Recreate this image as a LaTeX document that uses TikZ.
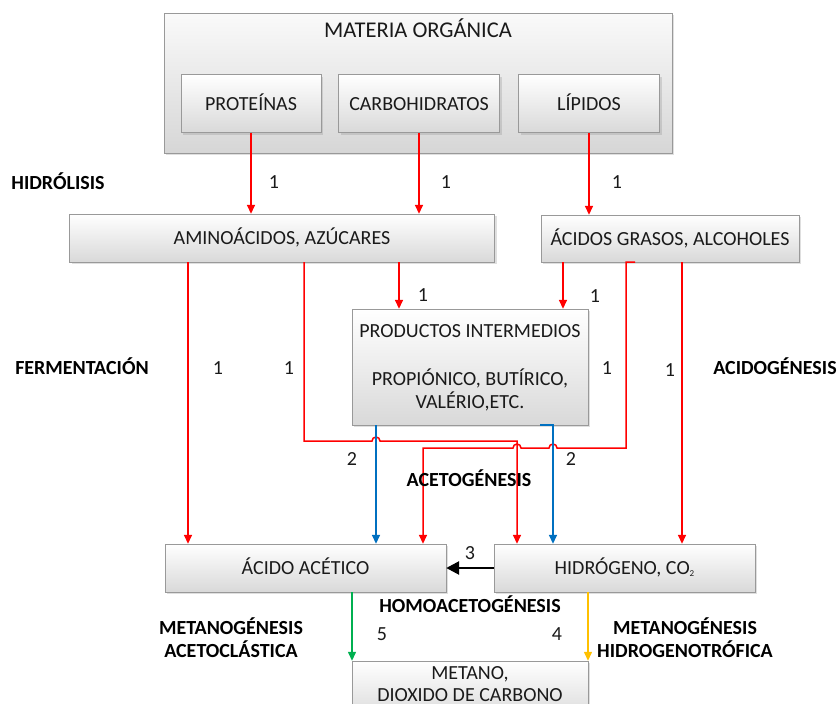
\documentclass[tikz,border=0pt]{standalone}
\usepackage{fontspec}
\setmainfont{Carlito}
\usetikzlibrary{arrows.meta,shadows}
\definecolor{cblue}{HTML}{0070C0}
\definecolor{cgreen}{HTML}{00B050}
\definecolor{cyellow}{HTML}{FFC000}
\definecolor{ctext}{HTML}{1A1A1A}
\begin{document}
\begin{tikzpicture}[x=1pt,y=-1pt,
  box/.style={draw=gray!80, top color=white, bottom color=gray!30,
    drop shadow={shadow xshift=2pt,shadow yshift=-2pt,opacity=0.25},
    inner sep=0pt, font=\fontsize{20}{23}\selectfont, text=ctext,
    text height=13pt, text depth=0pt},
  bigbox/.style={box, top color=gray!4, bottom color=gray!32},
  lbl/.style={font=\fontsize{20}{23}\selectfont, text=ctext, inner sep=0pt,
    text height=13pt, text depth=0pt},
  blbl/.style={lbl, font=\fontsize{20}{23}\selectfont\bfseries, text=black},
  ra/.style={draw=red, line width=1.5pt, -{Triangle[length=9pt,width=8pt]}},
  ba/.style={draw=cblue, line width=1.5pt, -{Triangle[length=9pt,width=8pt]}},
  ga/.style={draw=cgreen, line width=1.3pt, -{Triangle[length=9pt,width=8pt]}},
  ya/.style={draw=cyellow, line width=1.3pt, -{Triangle[length=9pt,width=8pt]}},
  ka/.style={draw=black, line width=2.6pt, -{Triangle[length=13pt,width=13pt]}}
]
\fill[white] (0,0) rectangle (839,704);
\clip (0,0) rectangle (839,704);

% boxes
\node[bigbox, minimum width=508pt, minimum height=140pt] (mat) at (418,83) {};
\node[lbl, font=\fontsize{22.5}{25}\selectfont, text height=14.5pt] (mattitle) at (418,30) {MATERIA ORGÁNICA};
\node[box, minimum width=140pt, minimum height=58pt] (prot) at (251,103.5) {PROTEÍNAS};
\node[box, minimum width=161pt, minimum height=58pt] (carb) at (419,103.5) {CARBOHIDRATOS};
\node[box, minimum width=141pt, minimum height=58pt] (lip) at (589,103.5) {LÍPIDOS};

\node[box, minimum width=425pt, minimum height=48pt] (amino) at (282,238) {AMINOÁCIDOS, AZÚCARES};
\node[box, minimum width=258pt, minimum height=47pt] (acidos) at (670,238.5) {ÁCIDOS GRASOS, ALCOHOLES};

\node[box, minimum width=236pt, minimum height=116pt] (prod) at (470,367) {};
\node[lbl] (prodA) at (470,331) {PRODUCTOS INTERMEDIOS};
\node[lbl] (prodB) at (470,379) {PROPIÓNICO, BUTÍRICO,};
\node[lbl] (prodC) at (470,402) {VALÉRIO,ETC.};

\node[box, minimum width=281pt, minimum height=48pt] (acet) at (305.5,568) {ÁCIDO ACÉTICO};
\node[box, minimum width=261pt, minimum height=48pt] (hidro) at (624.5,568) {HIDRÓGENO, CO{\fontsize{9}{9}\selectfont\raisebox{-1.5pt}{2}}};

\node[box, minimum width=236pt, minimum height=60pt] (metano) at (470,691) {};
\node[lbl] (metA) at (470,673) {METANO,};
\node[lbl] (metB) at (470,694.5) {DIOXIDO DE CARBONO};

% hydrolysis arrows
\draw[ra] (prot.south) -- (prot.south |- amino.north);
\draw[ra] (carb.south) -- (carb.south |- amino.north);
\draw[ra] (lip.south) -- (lip.south |- acidos.north);

% fermentation / acidogenesis
\draw[ra] (188,0 |- amino.south) -- (188,0 |- acet.north);
\draw[ra] (399,0 |- amino.south) -- (399,0 |- prod.north);
\draw[ra] (563,0 |- acidos.south) -- (563,0 |- prod.north);
\draw[ra] (682,0 |- acidos.south) -- (682,0 |- hidro.north);

\draw[ra] (304,0 |- amino.south) -- (304,441) -- (372,441)
   arc[start angle=180,end angle=0,radius=4pt] -- (517,441) -- (517,0 |- hidro.north);
\draw[ra] (635,0 |- acidos.south) -- (626,0 |- acidos.south) -- (626,448) -- (557,448)
   arc[start angle=0,end angle=180,radius=4pt] -- (521,448)
   arc[start angle=0,end angle=180,radius=4pt] -- (423,448) -- (423,0 |- acet.north);

% acetogenesis
\draw[ba] (376,0 |- prod.south) -- (376,0 |- acet.north);
\draw[ba] (540,0 |- prod.south) -- (553,0 |- prod.south) -- (553,0 |- hidro.north);

% homoacetogenesis
\draw[ka] (hidro.west) -- (acet.east);

% methanogenesis
\draw[ga] (352,0 |- acet.south) -- (352,0 |- metano.north);
\draw[ya] (588,0 |- hidro.south) -- (588,0 |- metano.north);

% labels
\node[blbl] (lhid) at (58,183) {HIDRÓLISIS};
\node[lbl] (n1a) at (274,182) {1};
\node[lbl] (n1b) at (446,182) {1};
\node[lbl] (n1c) at (617,182) {1};
\node[lbl] (n1d) at (423,295) {1};
\node[lbl] (n1e) at (595,296) {1};
\node[blbl] (lfer) at (82,368) {FERMENTACIÓN};
\node[lbl] (n1f) at (218,368) {1};
\node[lbl] (n1g) at (289,368) {1};
\node[lbl] (n1h) at (607,368) {1};
\node[lbl] (n1i) at (670,370) {1};
\node[blbl] (lacid) at (775,368) {ACIDOGÉNESIS};
\node[lbl] (n2a) at (352,459) {2};
\node[lbl] (n2b) at (571,459) {2};
\node[blbl] (lacet) at (469,480) {ACETOGÉNESIS};
\node[lbl] (n3) at (470,553) {3};
\node[blbl] (lhomo) at (470,606) {HOMOACETOGÉNESIS};
\node[blbl] (lmetA1) at (231,628) {METANOGÉNESIS};
\node[blbl] (lmetA2) at (231,651) {ACETOCLÁSTICA};
\node[lbl] (n5) at (382,634) {5};
\node[lbl] (n4) at (557,634) {4};
\node[blbl] (lmetH1) at (685,628) {METANOGÉNESIS};
\node[blbl] (lmetH2) at (685,651) {HIDROGENOTRÓFICA};
\end{tikzpicture}
\end{document}
